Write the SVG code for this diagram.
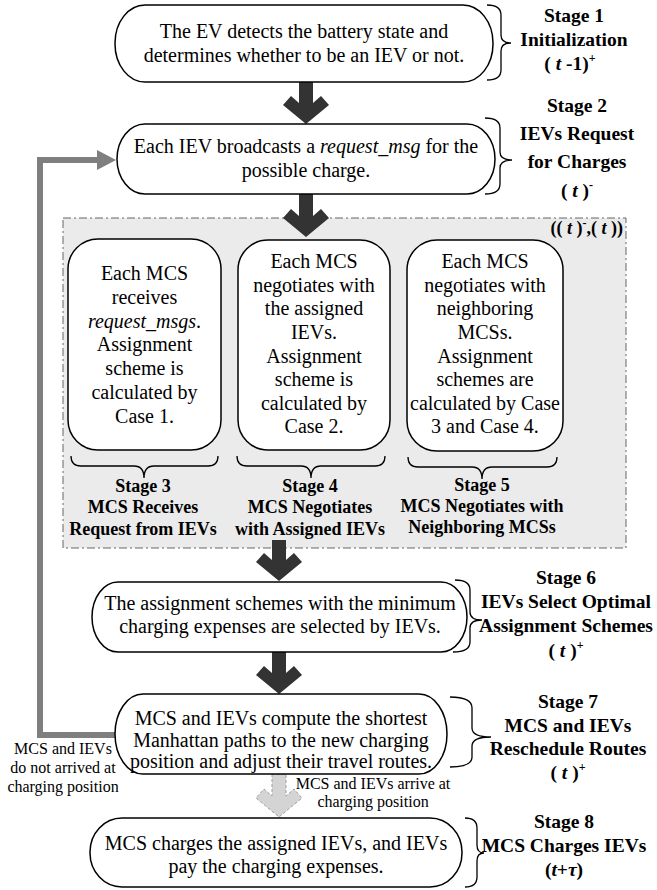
<svg xmlns="http://www.w3.org/2000/svg" width="657" height="890" viewBox="0 0 657 890">
<style>
.node{fill:#fff;stroke:#000;stroke-width:1.5}
.t{font-family:"Liberation Serif","Times New Roman",serif;font-size:20px;text-anchor:middle;fill:#000}
.b{font-weight:bold;font-size:19.5px}
.s{font-weight:bold;font-size:18px}
.sm{font-size:16px}
.br{fill:none;stroke:#000;stroke-width:1.3}
.arr{fill:#333}
.i{font-style:italic}
.sup{font-size:12px}
</style>
<rect width="657" height="890" fill="#fff"/>

<!-- group container -->
<g id="stage345-region">
  <rect x="63" y="218" width="563" height="330" fill="#ebebeb" stroke="#666" stroke-width="1" stroke-dasharray="8 3 2 3"/>
  <text class="t s" x="623" y="234" style="text-anchor:end">((<tspan class="i"> t </tspan>)<tspan class="sup" dy="-7">-</tspan><tspan dy="7">,(</tspan><tspan class="i"> t </tspan>))</text>
</g>

<g id="connectors">
  <polygon class="arr" points="299,82 313,82 313,103 321,96 329,105 306,124 283,105 291,96 299,103"/>
  <polygon class="arr" points="299,194 313,194 313,216 321,209 329,218 306,237 283,218 291,209 299,216"/>
  <polygon class="arr" points="272,540 286,540 286,560 294,553 302,562 279,581 256,562 264,553 272,560"/>
  <polygon class="arr" points="272,652 286,652 286,673 294,666 302,675 279,694 256,675 264,666 272,673"/>
  <polygon points="272,774 286,774 286,796 294,789 302,798 279,817 256,798 264,789 272,796" fill="#d4d4d4" stroke="#a0a0a0" stroke-width="1" stroke-dasharray="3 2"/>
  <polyline points="115,735 40,735 40,160 100,160" fill="none" stroke="#7f7f7f" stroke-width="6"/>
  <polygon points="97,150 116,160 97,170" fill="#7f7f7f"/>
  <text class="t sm" x="373" y="789">MCS and IEVs arrive at</text>
  <text class="t sm" x="373" y="807">charging position</text>
  <text class="t sm" x="63" y="754">MCS and IEVs</text>
  <text class="t sm" x="63" y="773">do not arrived at</text>
  <text class="t sm" x="63" y="792">charging position</text>
</g>

<g id="stage1">
  <rect class="node" x="115" y="5" width="378" height="77" rx="30" ry="38"/>
  <text class="t" x="304" y="38">The EV detects the battery state and</text>
  <text class="t" x="304" y="62">determines whether to be an IEV or not.</text>
  <path class="br" d="M487,5 Q501,5 501,15 L501,35 Q501,43 511,43 Q501,43 501,51 L501,70 Q501,80 487,80"/>
  <text class="t b" x="574" y="22">Stage 1</text>
  <text class="t b" x="574" y="46">Initialization</text>
  <text class="t b" x="570" y="70">( <tspan class="i">t</tspan> -1)<tspan class="sup" dy="-8">+</tspan></text>
</g>

<g id="stage2">
  <rect class="node" x="117" y="124" width="378" height="70" rx="28" ry="35"/>
  <text class="t" x="306" y="153">Each IEV broadcasts a <tspan class="i">request_msg</tspan> for the</text>
  <text class="t" x="306" y="177">possible charge.</text>
  <path class="br" d="M485,118 Q500,118 500,128 L500,152 Q500,160 512,160 Q500,160 500,168 L500,184 Q500,194 485,194"/>
  <text class="t b" x="577" y="112">Stage 2</text>
  <text class="t b" x="577" y="140">IEVs Request</text>
  <text class="t b" x="577" y="168">for Charges</text>
  <text class="t b" x="577" y="197">( <tspan class="i">t</tspan> )<tspan class="sup" dy="-8">-</tspan></text>
</g>

<g id="stage3">
  <rect class="node" x="68" y="239" width="153" height="211" rx="30" ry="30"/>
  <text class="t" x="144.5" y="280">Each MCS</text>
  <text class="t" x="144.5" y="304">receives</text>
  <text class="t" x="144.5" y="328"><tspan class="i">request_msgs</tspan>.</text>
  <text class="t" x="144.5" y="351">Assignment</text>
  <text class="t" x="144.5" y="375">scheme is</text>
  <text class="t" x="144.5" y="399">calculated by</text>
  <text class="t" x="144.5" y="423">Case 1.</text>
  <path class="br" d="M71,456 Q71,466 81,466 L134,466 Q144,466 144,478 Q144,466 154,466 L208,466 Q218,466 218,456"/>
  <text class="t s" x="143" y="492">Stage 3</text>
  <text class="t s" x="143" y="513">MCS Receives</text>
  <text class="t s" x="143" y="535">Request from IEVs</text>
</g>

<g id="stage4">
  <rect class="node" x="238" y="240" width="152" height="210" rx="30" ry="30"/>
  <text class="t" x="314" y="268">Each MCS</text>
  <text class="t" x="314" y="292">negotiates with</text>
  <text class="t" x="314" y="315">the assigned</text>
  <text class="t" x="314" y="339">IEVs.</text>
  <text class="t" x="314" y="363">Assignment</text>
  <text class="t" x="314" y="386">scheme is</text>
  <text class="t" x="314" y="410">calculated by</text>
  <text class="t" x="314" y="433">Case 2.</text>
  <path class="br" d="M237,456 Q237,466 247,466 L301,466 Q311,466 311,478 Q311,466 321,466 L375,466 Q385,466 385,456"/>
  <text class="t s" x="310" y="492">Stage 4</text>
  <text class="t s" x="310" y="513">MCS Negotiates</text>
  <text class="t s" x="310" y="535">with Assigned IEVs</text>
</g>

<g id="stage5">
  <rect class="node" x="407" y="240" width="156" height="211" rx="30" ry="30"/>
  <text class="t" x="485" y="268">Each MCS</text>
  <text class="t" x="485" y="292">negotiates with</text>
  <text class="t" x="485" y="315">neighboring</text>
  <text class="t" x="485" y="339">MCSs.</text>
  <text class="t" x="485" y="363">Assignment</text>
  <text class="t" x="485" y="386">schemes are</text>
  <text class="t" x="485" y="410">calculated by Case</text>
  <text class="t" x="485" y="433">3 and Case 4.</text>
  <path class="br" d="M408,457 Q408,467 418,467 L472,467 Q482,467 482,479 Q482,467 492,467 L547,467 Q557,467 557,457"/>
  <text class="t s" x="482" y="491">Stage 5</text>
  <text class="t s" x="482" y="512">MCS Negotiates with</text>
  <text class="t s" x="482" y="533">Neighboring MCSs</text>
</g>

<g id="stage6">
  <rect class="node" x="92" y="582" width="375" height="70" rx="26" ry="35"/>
  <text class="t" x="280" y="610">The assignment schemes with the minimum</text>
  <text class="t" x="280" y="633">charging expenses are selected by IEVs.</text>
  <path class="br" d="M455,580 Q470,580 470,590 L470,612 Q470,620 482,620 Q470,620 470,628 L470,642 Q470,652 453,652"/>
  <text class="t b" x="566" y="584">Stage 6</text>
  <text class="t b" x="566" y="608">IEVs Select Optimal</text>
  <text class="t b" x="566" y="632">Assignment Schemes</text>
  <text class="t b" x="566" y="657">( <tspan class="i">t</tspan> )<tspan class="sup" dy="-8">+</tspan></text>
</g>

<g id="stage7">
  <rect class="node" x="115" y="694" width="332" height="80" rx="28" ry="40"/>
  <text class="t" x="281" y="725">MCS and IEVs compute the shortest</text>
  <text class="t" x="281" y="747">Manhattan paths to the new charging</text>
  <text class="t" x="281" y="768">position and adjust their travel routes.</text>
  <path class="br" d="M450,697 Q472,697 472,708 L472,728 Q472,737 491,737 Q472,737 472,746 L472,757 Q472,767 450,767"/>
  <text class="t b" x="568" y="708">Stage 7</text>
  <text class="t b" x="568" y="732">MCS and IEVs</text>
  <text class="t b" x="568" y="755">Reschedule Routes</text>
  <text class="t b" x="568" y="779">( <tspan class="i">t</tspan> )<tspan class="sup" dy="-8">+</tspan></text>
</g>

<g id="stage8">
  <rect class="node" x="90" y="818" width="372" height="69" rx="32" ry="34"/>
  <text class="t" x="276" y="850">MCS charges the assigned IEVs, and IEVs</text>
  <text class="t" x="276" y="873">pay the charging expenses.</text>
  <path class="br" d="M465,818 Q477,818 477,828 L477,845 Q477,853 484,853 Q477,853 477,861 L477,877 Q477,887 465,887"/>
  <text class="t b" x="564" y="828">Stage 8</text>
  <text class="t b" x="564" y="852">MCS Charges IEVs</text>
  <text class="t b" x="564" y="876">(<tspan class="i">t</tspan>+<tspan class="i">τ</tspan>)</text>
</g>
</svg>
